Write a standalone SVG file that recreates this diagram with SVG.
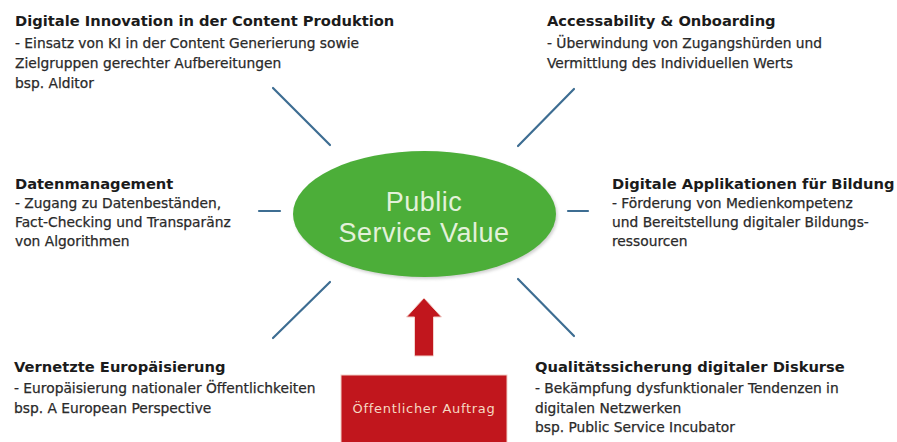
<svg xmlns="http://www.w3.org/2000/svg" width="897" height="442" viewBox="0 0 897 442">
  <defs>
    <style>
      .title { font-family: "DejaVu Sans", "Liberation Sans", sans-serif; font-weight: bold; font-size: 14.7px; fill: #1b1b1b; }
      .body { font-family: "DejaVu Sans", "Liberation Sans", sans-serif; font-size: 13.8px; fill: #2a2a2a; stroke: #2a2a2a; stroke-width: 0.25px; }
      .core { font-family: "Liberation Sans", Arial, sans-serif; font-size: 27px; letter-spacing: 0.5px; fill: #e3f1da; text-anchor: middle; }
      .mandate { font-family: "DejaVu Sans", "Liberation Sans", sans-serif; font-size: 13px; letter-spacing: 0.7px; fill: #f6d8c2; text-anchor: middle; }
      .spoke { stroke: #3d6d92; stroke-width: 2.2; stroke-linecap: round; fill: none; }
    </style>
    <filter id="soft" x="-10%" y="-10%" width="120%" height="130%">
      <feGaussianBlur stdDeviation="1.5"/>
    </filter>
  </defs>

  <rect width="897" height="442" fill="#ffffff"/>

  <!-- spokes radiating from the central value -->
  <g id="connectors">
    <line class="spoke" x1="273" y1="88" x2="330" y2="145"/>
    <line class="spoke" x1="574" y1="89" x2="518" y2="146"/>
    <line class="spoke" x1="259" y1="211" x2="280" y2="211"/>
    <line class="spoke" x1="568" y1="211" x2="588" y2="211"/>
    <line class="spoke" x1="330" y1="282" x2="273" y2="338"/>
    <line class="spoke" x1="518" y1="279" x2="574" y2="336"/>
    <!-- upward arrow from the public mandate -->
    <path d="M424 298 L441.5 317 L433.5 317 L433.5 356 L414.5 356 L414.5 317 L406.5 317 Z" fill="#c1161d" stroke="#f3d2cc" stroke-width="1"/>
  </g>

  <!-- central ellipse -->
  <g id="public-service-value">
    <ellipse cx="426" cy="216" rx="131.5" ry="63" fill="#9a9a9a" opacity="0.45" filter="url(#soft)"/>
    <ellipse cx="424.5" cy="214" rx="131.5" ry="63" fill="#4cae39"/>
    <text class="core" x="424" y="211">Public</text>
    <text class="core" x="424" y="242">Service Value</text>
  </g>

  <g id="content-innovation">
    <text class="title" x="15" y="26">Digitale Innovation in der Content Produktion</text>
    <text class="body" x="15" y="48">- Einsatz von KI in der Content Generierung sowie</text>
    <text class="body" x="15" y="68">Zielgruppen gerechter Aufbereitungen</text>
    <text class="body" x="15" y="87.5">bsp. Alditor</text>
  </g>

  <g id="accessibility">
    <text class="title" x="547" y="26">Accessability &amp; Onboarding</text>
    <text class="body" x="547" y="48">- Überwindung von Zugangshürden und</text>
    <text class="body" x="547" y="67.5">Vermittlung des Individuellen Werts</text>
  </g>

  <g id="data-management">
    <text class="title" x="15" y="189">Datenmanagement</text>
    <text class="body" x="15" y="208">- Zugang zu Datenbeständen,</text>
    <text class="body" x="15" y="227">Fact-Checking und Transparänz</text>
    <text class="body" x="15" y="246">von Algorithmen</text>
  </g>

  <g id="education-apps">
    <text class="title" x="612" y="189">Digitale Applikationen für Bildung</text>
    <text class="body" x="612" y="208">- Förderung von Medienkompetenz</text>
    <text class="body" x="612" y="227">und Bereitstellung digitaler Bildungs-</text>
    <text class="body" x="612" y="246">ressourcen</text>
  </g>

  <g id="europeanisation">
    <text class="title" x="14" y="372">Vernetzte Europäisierung</text>
    <text class="body" x="14" y="392.5">- Europäisierung nationaler Öffentlichkeiten</text>
    <text class="body" x="14" y="412.5">bsp. A European Perspective</text>
  </g>

  <g id="discourse-quality">
    <text class="title" x="535" y="372">Qualitätssicherung digitaler Diskurse</text>
    <text class="body" x="535" y="393">- Bekämpfung dysfunktionaler Tendenzen in</text>
    <text class="body" x="535" y="413">digitalen Netzwerken</text>
    <text class="body" x="535" y="432">bsp. Public Service Incubator</text>
  </g>

  <g id="public-mandate">
    <rect x="341" y="375" width="166" height="72" fill="#c1161d" stroke="#f1cfc8" stroke-width="1"/>
    <text class="mandate" x="424" y="413">Öffentlicher Auftrag</text>
  </g>
</svg>
